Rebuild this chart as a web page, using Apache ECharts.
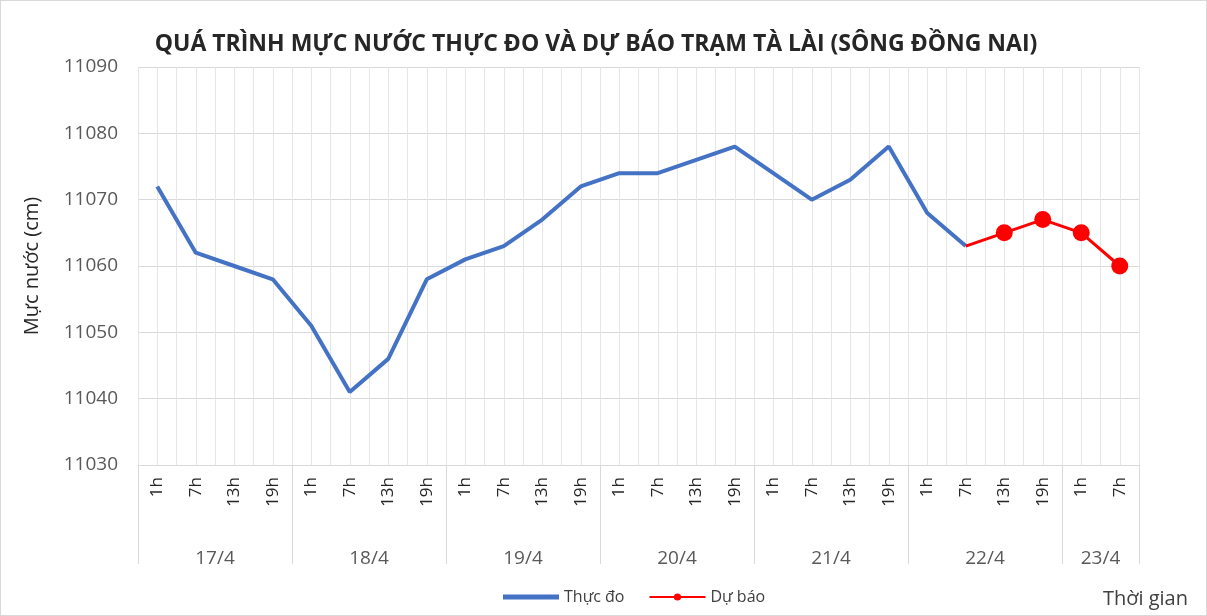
<!DOCTYPE html>
<html>
<head>
<meta charset="utf-8">
<script src="https://cdn.jsdelivr.net/npm/echarts@6/dist/echarts.min.js"></script>
<style>
  html, body { margin: 0; padding: 0; background: #fff; }
  #chart { width: 1207px; height: 616px; box-sizing: border-box; border: 1px solid #d9d9d9; }
</style>
</head>
<body>
<div id="chart"></div>
<script>
// giờ đo trong ngày
var hours = ['1h', '7h', '13h', '19h', '1h', '7h', '13h', '19h', '1h', '7h', '13h', '19h',
  '1h', '7h', '13h', '19h', '1h', '7h', '13h', '19h', '1h', '7h', '13h', '19h', '1h', '7h']
// nhóm ngày và số mốc giờ của mỗi ngày
var days = ['17/4', '18/4', '19/4', '20/4', '21/4', '22/4', '23/4']
var daySizes = [4, 4, 4, 4, 4, 4, 2]
// mực nước thực đo
var observed = [11072, 11062, 11060, 11058, 11051, 11041, 11046, 11058,
  11061, 11063, 11067, 11072, 11074, 11074, 11076, 11078,
  11074, 11070, 11073, 11078, 11068, 11063]
// mực nước dự báo (bắt đầu từ 7h ngày 22/4)
var forecastStart = 21
var forecast = [11063, 11065, 11067, 11065, 11060]
var yTicks = [11030, 11040, 11050, 11060, 11070, 11080, 11090]

var axisColor = '#D9D9D9'
var textColor = '#595959'
var font = '"Open Sans", "Noto Sans", sans-serif'

// trục phụ theo nửa mốc để ghi nhãn ngày và vạch phân cách
var halfCats = []
var sepIdx = {}
var labelAt = {}
var pos = 0
sepIdx[0] = true
days.forEach(function (d, i) {
  labelAt[pos + daySizes[i]] = d
  pos += daySizes[i] * 2
  sepIdx[pos] = true
})
for (var k = 0; k <= hours.length * 2; k++) {
  halfCats.push(labelAt[k] || '')
}

var observedData = hours.map(function (h, i) {
  return i < observed.length ? observed[i] : null
})
var forecastData = hours.map(function (h, i) {
  var j = i - forecastStart
  if (j < 0 || j >= forecast.length) return null
  if (j === 0) return { value: forecast[j], symbol: 'none' }
  return forecast[j]
})

var chart = echarts.init(document.getElementById('chart'))
chart.setOption({
  animation: false,
  title: {
    text: 'QUÁ TRÌNH MỰC NƯỚC THỰC ĐO VÀ DỰ BÁO TRẠM TÀ LÀI (SÔNG ĐỒNG NAI)',
    left: 590,
    textAlign: 'center',
    top: 27,
    textStyle: {
      color: '#262626',
      fontWeight: 'bold',
      fontSize: 23,
      fontFamily: font
    }
  },
  grid: {
    left: 137,
    right: 67,
    top: 66,
    bottom: 150,
    containLabel: false
  },
  legend: {
    bottom: 5,
    left: 497,
    itemWidth: 56,
    itemHeight: 9,
    itemGap: 24,
    textStyle: { color: '#404040', fontSize: 16, fontFamily: font },
    data: [
      { name: 'Thực đo', icon: 'path://M0,0 L56,0 L56,5 L0,5 Z' },
      { name: 'Dự báo' }
    ]
  },
  graphic: [{
    type: 'text',
    right: 18,
    bottom: 6,
    style: { text: 'Thời gian', fill: '#404040', fontSize: 20, fontFamily: font }
  }],
  xAxis: [{
    type: 'category',
    data: hours,
    boundaryGap: true,
    axisLine: { lineStyle: { color: axisColor } },
    axisTick: { show: false },
    axisLabel: {
      rotate: 90,
      interval: 0,
      margin: 12,
      color: '#262626',
      fontSize: 17,
      fontFamily: font
    },
    splitLine: { show: false }
  }, {
    type: 'category',
    data: halfCats,
    boundaryGap: false,
    position: 'bottom',
    axisLine: { show: false },
    axisTick: {
      show: true,
      length: 99,
      interval: function (idx) { return !!sepIdx[idx] },
      lineStyle: { color: axisColor }
    },
    axisLabel: {
      interval: 0,
      margin: 84,
      color: textColor,
      fontSize: 19,
      fontFamily: font
    },
    splitLine: { show: false }
  }, {
    type: 'value',
    min: 0,
    max: hours.length,
    interval: 0.5,
    show: true,
    axisLine: { show: false },
    axisTick: { show: false },
    axisLabel: { show: false },
    splitLine: { show: true, lineStyle: { color: '#E6E6E6' } }
  }],
  yAxis: {
    type: 'value',
    min: yTicks[0],
    max: yTicks[yTicks.length - 1],
    interval: 10,
    name: 'Mực nước (cm)',
    nameLocation: 'middle',
    nameGap: 96,
    nameTextStyle: { color: '#262626', fontSize: 20, fontFamily: font },
    axisLine: { show: false },
    axisTick: { show: false },
    axisLabel: {
      color: textColor,
      fontSize: 19,
      fontFamily: font,
      margin: 20,
      formatter: function (v) { return String(v) }
    },
    splitLine: { lineStyle: { color: axisColor } }
  },
  series: [{
    name: 'Thực đo',
    type: 'line',
    xAxisIndex: 0,
    data: observedData,
    symbol: 'none',
    lineStyle: { color: '#4472C4', width: 4 },
    itemStyle: { color: '#4472C4' }
  }, {
    name: 'Dự báo',
    type: 'line',
    xAxisIndex: 0,
    data: forecastData,
    symbol: 'circle',
    symbolSize: 17,
    lineStyle: { color: '#FF0000', width: 3 },
    itemStyle: { color: '#FF0000' }
  }]
})
</script>
</body>
</html>
